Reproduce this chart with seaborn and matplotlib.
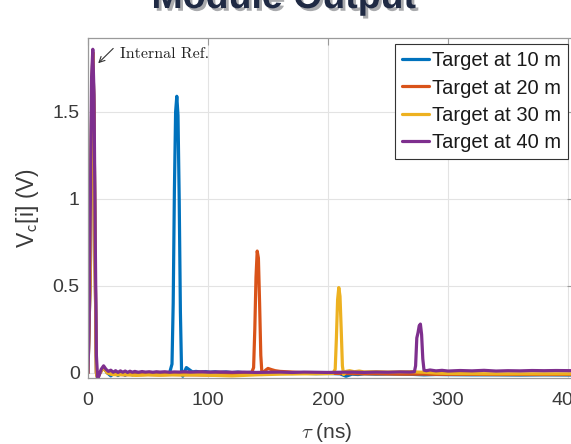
import matplotlib
matplotlib.use("Agg")
import matplotlib.pyplot as plt
import matplotlib.patheffects as pe
import seaborn as sns
import pandas as pd

# ---- data ----
series_labels = ["Target at 10 m", "Target at 20 m", "Target at 30 m", "Target at 40 m"]
series_colors = ["#0072BD", "#D95319", "#EDB120", "#7E2F8E"]

tau_b = [0, 2, 3, 4, 5, 6, 7, 8, 10, 13, 16, 19, 22, 25, 28, 31, 34, 37, 40, 44,
         48, 52, 56, 60, 64, 68, 70, 71, 72, 73, 74, 75, 76, 77, 78, 79, 80, 82, 84, 87,
         90, 94, 98, 102, 106, 110, 115, 120, 125, 130, 135, 140, 145, 150, 160, 170, 180, 190, 200, 210,
         215, 220, 225, 230, 240, 250, 260, 270, 280, 290, 300, 320, 340, 360, 380, 405]
v_b = [0, 0.6, 1.5, 1.84, 1.5, 0.6, 0.0, -0.03, 0.0, 0.03, 0.0, -0.018, 0.002, -0.016, 0.0, -0.014, 0.0, -0.012, -0.002, -0.008,
       0.0, -0.006, 0.001, -0.004, 0.0, 0.0, 0.05, 0.4, 1.05, 1.5, 1.59, 1.48, 1.0, 0.35, 0.0, -0.02, 0.0, 0.03, 0.02, 0.005,
       0.008, 0.004, 0.007, 0.003, 0.006, 0.002, 0.005, 0.001, 0.004, 0.0, 0.002, -0.002, 0.0, -0.003, -0.002, -0.004, -0.003, -0.005, -0.004, -0.006,
       -0.02, -0.008, -0.01, -0.006, -0.008, -0.007, -0.008, -0.009, -0.012, -0.01, -0.011, -0.012, -0.012, -0.013, -0.012, -0.013]

tau_r = [0, 2, 3, 4, 5, 6, 7, 8, 10, 13, 16, 20, 25, 30, 35, 40, 50, 60, 70, 80,
         90, 100, 110, 120, 130, 136, 138, 139, 140, 141, 142, 143, 144, 145, 146, 148, 150, 153, 156, 160,
         165, 170, 175, 180, 190, 200, 210, 220, 230, 240, 250, 260, 270, 280, 290, 300, 320, 340, 360, 380, 405]
v_r = [0, 0.6, 1.5, 1.84, 1.5, 0.6, 0.0, -0.03, 0.0, 0.03, 0.0, -0.01, -0.008, -0.012, -0.01, -0.012, -0.01, -0.012, -0.01, -0.011,
       -0.012, -0.013, -0.012, -0.01, -0.008, -0.006, 0.03, 0.25, 0.55, 0.70, 0.66, 0.40, 0.1, -0.01, 0.0, 0.015, 0.025, 0.018, 0.012, 0.008,
       0.006, 0.004, 0.002, 0.0, -0.002, -0.003, -0.004, -0.005, -0.006, -0.006, -0.007, -0.008, -0.008, -0.008, -0.009, -0.009, -0.009, -0.01, -0.01, -0.01, -0.01]

tau_y = [0, 2, 3, 4, 5, 6, 7, 8, 10, 13, 16, 20, 25, 30, 40, 50, 60, 70, 80, 90,
         100, 110, 120, 130, 140, 150, 160, 170, 180, 190, 200, 204, 206, 207, 208, 209, 210, 211, 212, 213,
         215, 218, 222, 226, 230, 240, 250, 260, 270, 275, 280, 290, 300, 320, 340, 360, 380, 405]
v_y = [0, 0.6, 1.5, 1.84, 1.5, 0.6, 0.0, -0.03, 0.0, 0.03, 0.0, -0.01, -0.012, -0.01, -0.015, -0.012, -0.014, -0.012, -0.013, -0.012,
       -0.014, -0.016, -0.018, -0.015, -0.012, -0.01, -0.008, -0.007, -0.006, -0.006, -0.005, -0.004, 0.02, 0.2, 0.42, 0.49, 0.44, 0.25, 0.04, -0.01,
       0.008, 0.012, 0.006, 0.01, 0.005, 0.006, 0.004, 0.005, 0.006, 0.004, 0.003, -0.002, -0.004, -0.005, -0.006, -0.006, -0.006, -0.006]

tau_p = [0, 1, 2, 3, 4, 5, 6, 7, 8, 9, 11, 13, 15, 17, 19, 21, 23, 25, 27, 29,
         31, 33, 35, 37, 39, 42, 45, 48, 51, 54, 57, 60, 64, 68, 72, 76, 80, 85, 90, 95,
         100, 110, 120, 130, 140, 150, 160, 170, 180, 190, 200, 210, 220, 230, 240, 250, 260, 268, 272, 273,
         274, 275, 276, 277, 278, 279, 280, 282, 285, 290, 295, 300, 310, 320, 330, 340, 350, 360, 370, 380, 390, 405]
v_p = [0.0, 0.3, 1.0, 1.7, 1.86, 1.6, 0.8, 0.1, -0.03, -0.02, 0.02, 0.04, 0.02, 0.008, 0.015, 0.003, 0.012, 0.002, 0.011, 0.003,
       0.01, 0.002, 0.009, 0.003, 0.008, 0.003, 0.007, 0.004, 0.006, 0.003, 0.006, 0.004, 0.006, 0.003, 0.005, 0.004, 0.006, 0.004, 0.005, 0.006,
       0.004, 0.005, 0.003, 0.004, 0.002, 0.003, 0.004, 0.002, 0.004, 0.003, 0.002, 0.003, 0.004, 0.002, 0.004, 0.003, 0.005, 0.004, 0.006, 0.04,
       0.2, 0.23, 0.27, 0.28, 0.22, 0.08, 0.015, 0.012, 0.016, 0.011, 0.014, 0.01, 0.013, 0.011, 0.014, 0.01, 0.012, 0.011, 0.013, 0.012, 0.013, 0.012]

x_ticks = [0, 100, 200, 300, 400]
x_ticklabels = ["0", "100", "200", "300", "400"]
y_ticks = [0, 0.5, 1, 1.5]
y_ticklabels = ["0", "0.5", "1", "1.5"]
title_text = "Module Output"
annot_text = "Internal Ref."

# ---- build long-form table ----
frames = []
for lab, t, v in zip(series_labels, [tau_b, tau_r, tau_y, tau_p], [v_b, v_r, v_y, v_p]):
    frames.append(pd.DataFrame({"tau": t, "V": v, "series": lab}))
df = pd.concat(frames, ignore_index=True)

sns.set_style("white")
plt.rcParams["font.family"] = ["Liberation Sans", "DejaVu Sans"]
plt.rcParams["mathtext.fontset"] = "cm"

W, H = 571, 444
fig = plt.figure(figsize=(W / 100, H / 100), dpi=100)
ax = fig.add_axes([88 / W, 66 / H, 486 / W, 340 / H])

sns.lineplot(data=df, x="tau", y="V", hue="series", hue_order=series_labels,
             palette=series_colors, sort=False, estimator=None, lw=2.3, ax=ax)
for ln in ax.get_lines():
    ln.set_solid_joinstyle("round")
    ln.set_solid_capstyle("round")

ax.set_xlim(0, 405)
ax.set_ylim(-0.03, 1.925)
ax.set_xticks(x_ticks, x_ticklabels)
ax.set_yticks(y_ticks, y_ticklabels)
ax.grid(True, color="#e3e3e3", lw=0.8)
ax.set_axisbelow(True)
for s in ax.spines.values():
    s.set_color("#9a9a9a")
    s.set_linewidth(0.9)
ax.tick_params(direction="in", length=5, width=0.8, color="#9a9a9a",
               top=True, right=True, labelsize=14, labelcolor="#3a3a3a")
ax.tick_params(axis="x", pad=10)
ax.tick_params(axis="y", pad=6)

ax.set_xlabel(r"$\tau$ (ns)", fontsize=15, color="#3a3a3a")
ax.xaxis.set_label_coords(0.492, -0.16)
ax.xaxis.label.set_va("center")
ax.set_ylabel(r"V$_{\mathsf{c}}$[i] (V)", fontsize=16.5, color="#3a3a3a")
ax.yaxis.set_label_coords(-0.125, 0.5)
ax.yaxis.label.set_va("center")

ax.annotate("", xy=(8.5, 1.78), xytext=(21, 1.865),
            arrowprops=dict(arrowstyle="->", color="#333333", lw=0.8, shrinkA=0, shrinkB=0))
ax.text(26.5, 1.835, annot_text, family="cmr10", fontsize=11.5, color="#222222", va="center", ha="left")

handles, labels = ax.get_legend_handles_labels()
leg = ax.legend(handles, labels, loc="upper right", bbox_to_anchor=(568 / W, 1 - 44 / H),
                bbox_transform=fig.transFigure, fontsize=14.5, frameon=True, fancybox=False,
                framealpha=1, edgecolor="#333333", handlelength=1.35, handletextpad=0.12,
                borderpad=0.35, labelspacing=0.42, borderaxespad=0)
leg.get_frame().set_linewidth(0.8)
for t in leg.get_texts():
    t.set_color("#1a1a1a")

fig.text(0.497, 1 - 8 / H, title_text, ha="center", va="baseline", fontsize=27,
         fontweight="bold", color="#1f2a44",
         path_effects=[pe.SimplePatchShadow(offset=(2, -2), alpha=0.35), pe.Normal()])

fig.savefig("out.png", dpi=100)
